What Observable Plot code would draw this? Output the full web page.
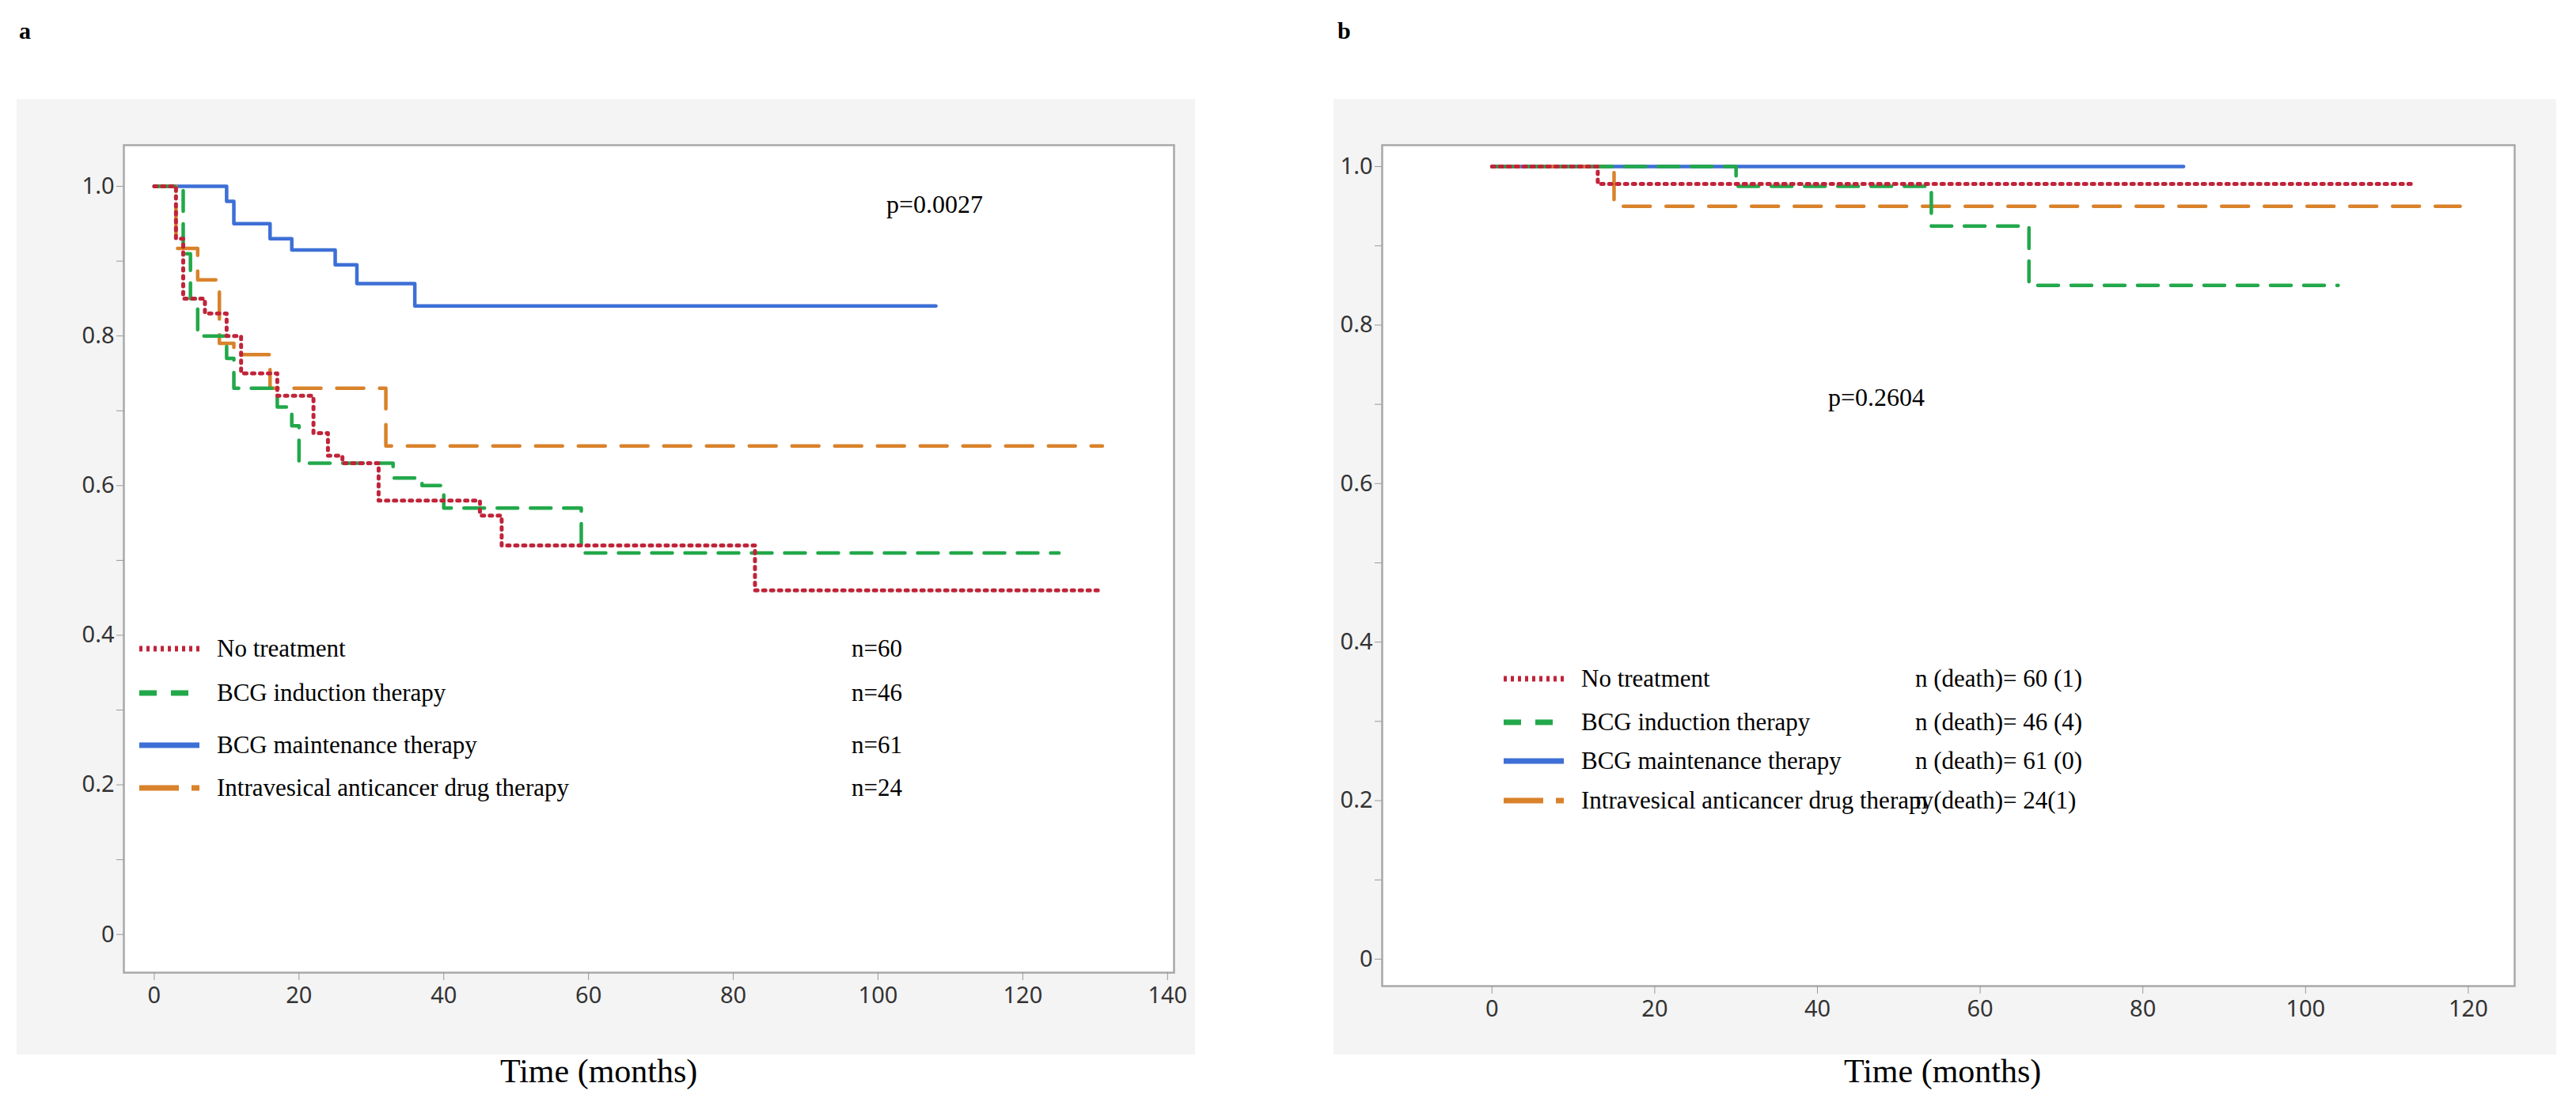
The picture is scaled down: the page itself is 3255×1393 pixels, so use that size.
<!DOCTYPE html>
<html><head><meta charset="utf-8">
<script src="https://cdn.jsdelivr.net/npm/d3@7"></script>
<script src="https://cdn.jsdelivr.net/npm/@observablehq/plot@0.6"></script>
<style>
body{margin:0;width:3255px;height:1393px;background:#fff;position:relative;font-family:"Liberation Serif",serif;}
.abs{position:absolute;}
.pl{font-family:"Liberation Serif",serif;font-weight:bold;font-size:30px;}
.title{font-size:42px;}
.leg{font-size:31px;white-space:nowrap;display:flex;align-items:center;height:40px;}
.pv{font-size:32px;}
</style></head><body>
<div class="abs pl" style="left:24px;top:22px">a</div>
<div class="abs pl" style="left:1690px;top:22px">b</div>
<div id="pa" class="abs" style="left:21px;top:125px"></div>
<div id="pb" class="abs" style="left:1685px;top:125px"></div>
<div class="abs title" style="left:632px;top:1330px">Time (months)</div>
<div class="abs title" style="left:2330px;top:1330px">Time (months)</div>
<div id="la"></div><div id="lb"></div>
<script>
const groups = ["No treatment","BCG induction therapy","BCG maintenance therapy","Intravesical anticancer drug therapy"];
const colors = ["#c0243a","#22a84a","#3d6fd6","#d9822b"];
const dashes = ["3,7","26,16","none","34,20"];
const nA = ["n=60","n=46","n=61","n=24"];
const nB = ["n (death)= 60 (1)","n (death)= 46 (4)","n (death)= 61 (0)","n (death)= 24(1)"];
// panel a: [time, survival]
const aNone = [[0,1],[3,0.93],[4,0.85],[7,0.83],[10,0.8],[12,0.75],[17,0.72],[22,0.67],[24,0.64],[26,0.63],[31,0.58],[45,0.56],[48,0.52],[83,0.46],[131,0.46]];
const aInd = [[0,1],[4,0.91],[5,0.85],[6,0.8],[10,0.77],[11,0.73],[17,0.705],[19,0.68],[20,0.63],[33,0.61],[37,0.6],[40,0.57],[59,0.51],[125,0.51]];
const aMain = [[0,1],[10,0.98],[11,0.95],[16,0.93],[19,0.915],[25,0.895],[28,0.87],[36,0.84],[108,0.84]];
const aDrug = [[0,1],[3,0.917],[6,0.875],[9,0.79],[11,0.775],[16,0.73],[32,0.653],[131,0.653]];
// panel b
const bNone = [[0,1],[13,0.978],[113,0.978]];
const bInd = [[0,1],[30,0.975],[54,0.925],[66,0.85],[104,0.85]];
const bMain = [[0,1],[85,1]];
const bDrug = [[0,1],[15,0.95],[119,0.95]];

function rows(series){
  const out=[];
  series.forEach((s,i)=>s.forEach(([t,v])=>out.push({g:groups[i],t,v,i})));
  return out;
}
function panel(series, xdom, ydom, xticks, w, h, m){
  const data = rows(series);
  const marks = [
    Plot.frame({fill:"white",stroke:"#a8a8a8",strokeWidth:2.5}),
    Plot.axisX({ticks:xticks, tickSize:10, stroke:"#999", fontSize:29, tickPadding:8, label:null, fill:"#333"}),
    Plot.axisY({ticks:d3.range(0,1.01,0.1), tickSize:9, stroke:"#999", fontSize:29, label:null, fill:"#333",
      tickFormat:d=>{const r=Math.round(d*10); return r%2? "" : (r===0?"0":(r/10).toFixed(1));}})
  ];
  [2,3,1,0].forEach(i=>{
    marks.push(Plot.line(data.filter(d=>d.i===i),{x:"t",y:"v",curve:"step-after",stroke:colors[i],
      strokeWidth:i===0?5:4.5,strokeDasharray:dashes[i]}));
  });
  return Plot.plot({width:w,height:h,marginLeft:m[0],marginRight:m[1],marginTop:m[2],marginBottom:m[3],
    style:{background:"#f4f4f4",fontFamily:"'Segoe UI','Noto Sans',sans-serif"},
    x:{domain:xdom}, y:{domain:ydom}, marks});
}
document.getElementById("pa").append(panel([aNone,aInd,aMain,aDrug],[-4.2,140.9],[-0.051,1.055],d3.range(0,141,20),1489,1208,[135,27,58,104]));
document.getElementById("pb").append(panel([bNone,bInd,bMain,bDrug],[-13.5,125.7],[-0.034,1.027],d3.range(0,121,20),1545,1208,[61,53,58,87]));

function legend(id, rowsY, x0, xn, texts, pv){
  const el=document.getElementById(id);
  groups.forEach((g,i)=>{
    const d=document.createElement("div");
    d.className="abs leg"; d.style.left=x0+"px"; d.style.top=(rowsY[i]-20)+"px";
    const dash = dashes[i]==="none"?"":`stroke-dasharray="${i===0?'4,5':i===1?'22,18':'50,16'}"`;
    d.innerHTML=`<svg width="76" height="20" style="margin-right:22px"><line x1="0" x2="76" y1="10" y2="10" stroke="${colors[i]}" stroke-width="7" ${dash}/></svg><span>${g}</span>`;
    el.append(d);
    const n=document.createElement("div");
    n.className="abs leg"; n.style.left=xn+"px"; n.style.top=(rowsY[i]-20)+"px"; n.textContent=texts[i];
    el.append(n);
  });
  const p=document.createElement("div"); p.className="abs pv"; p.style.left=pv[0]+"px"; p.style.top=pv[1]+"px"; p.textContent=pv[2];
  el.append(p);
}
legend("la",[820,876,942,996],176,1076,nA,[1120,240,"p=0.0027"]);
legend("lb",[858,913,962,1012],1900,2420,nB,[2310,484,"p=0.2604"]);
</script>
</body></html>
